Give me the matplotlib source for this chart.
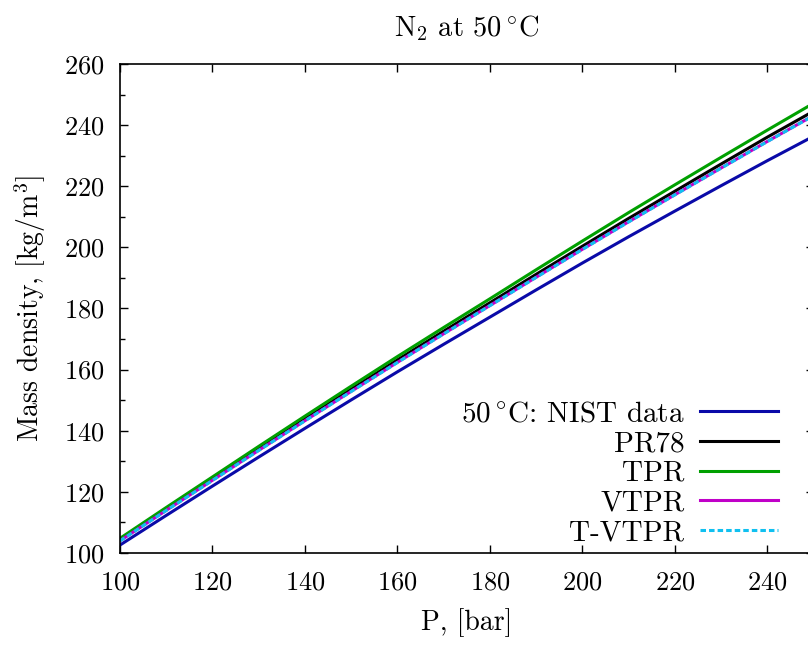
"""N2 mass density at 50 C: NIST data vs. cubic EoS variants."""
import matplotlib
matplotlib.use("Agg")
import matplotlib.pyplot as plt
from matplotlib.ticker import MultipleLocator

# pressure grid [bar]
pressure = [100, 110, 120, 130, 140, 150, 160, 170, 180, 190, 200, 210, 220, 230, 240, 250]

# mass density [kg/m3]
nist = [102.6, 112.3, 121.9, 131.4, 140.8, 150.1, 159.3, 168.3, 177.2, 186.1,
        194.9, 203.5, 211.9, 220.2, 228.4, 236.4]
pr78 = [104.3, 114.3, 124.2, 134.1, 143.9, 153.6, 163.2, 172.6, 181.9, 191.2,
        200.4, 209.5, 218.4, 227.3, 236.1, 244.6]
tpr = [104.8, 114.9, 124.9, 134.9, 144.8, 154.6, 164.3, 173.8, 183.2, 192.7,
       202.1, 211.4, 220.5, 229.5, 238.4, 247.2]
vtpr = [104.0, 113.95, 123.8, 133.6, 143.3, 152.9, 162.4, 171.75, 181.0, 190.25,
        199.4, 208.4, 217.25, 226.0, 234.7, 243.2]
tvtpr = [103.95, 113.9, 123.75, 133.55, 143.25, 152.85, 162.35, 171.7, 180.95, 190.2,
         199.35, 208.35, 217.2, 225.95, 234.65, 243.15]

x_ticks = [100, 120, 140, 160, 180, 200, 220, 240]
y_ticks = [100, 120, 140, 160, 180, 200, 220, 240, 260]

plt.rcParams["font.family"] = ["cmr10", "DejaVu Serif"]
plt.rcParams["mathtext.fontset"] = "cm"
plt.rcParams["axes.formatter.use_mathtext"] = True

fig = plt.figure(figsize=(8.08, 6.48), dpi=100)
ax = fig.add_axes([120 / 808, 95 / 648, 693.75 / 808, 489 / 648])

lw = 2.2
ax.plot(pressure, nist, color="#0a0aa8", lw=lw, label=r"50$\,^{\circ}$C: NIST data")
ax.plot(pressure, pr78, color="black", lw=lw, label="PR78")
ax.plot(pressure, tpr, color="#00a000", lw=lw, label="TPR")
ax.plot(pressure, vtpr, color="#c000c8", lw=lw, label="VTPR")
ax.plot(pressure, tvtpr, color="#10c0f0", lw=lw, ls=(0, (1.8, 1.0)), label="T-VTPR")

ax.set_xlim(100, 250)
ax.set_ylim(100, 260)
ax.set_xticks(x_ticks)
ax.set_yticks(y_ticks)
ax.yaxis.set_minor_locator(MultipleLocator(10))
ax.tick_params(which="both", direction="in", top=True, right=True, labelsize=19)
ax.tick_params(which="major", length=6, width=1)
ax.tick_params(which="minor", length=3.5, width=1)
ax.tick_params(axis="x", pad=13)
ax.tick_params(axis="y", pad=11)
for sp in ax.spines.values():
    sp.set_linewidth(1.2)

ax.set_xlabel("P, [bar]", fontsize=20, labelpad=10)
ax.set_ylabel(r"Mass density, [kg/m$^3$]", fontsize=20, labelpad=12)
ax.set_title(r"N$_2$ at 50$\,^{\circ}$C", fontsize=20.5, pad=20)

ax.legend(loc="lower right", bbox_to_anchor=(0.948, 0.014), frameon=False,
          markerfirst=False, fontsize=21, handlelength=2.65, handletextpad=0.55,
          labelspacing=0.11, borderpad=0, borderaxespad=0)

fig.savefig("out.png", dpi=100)
